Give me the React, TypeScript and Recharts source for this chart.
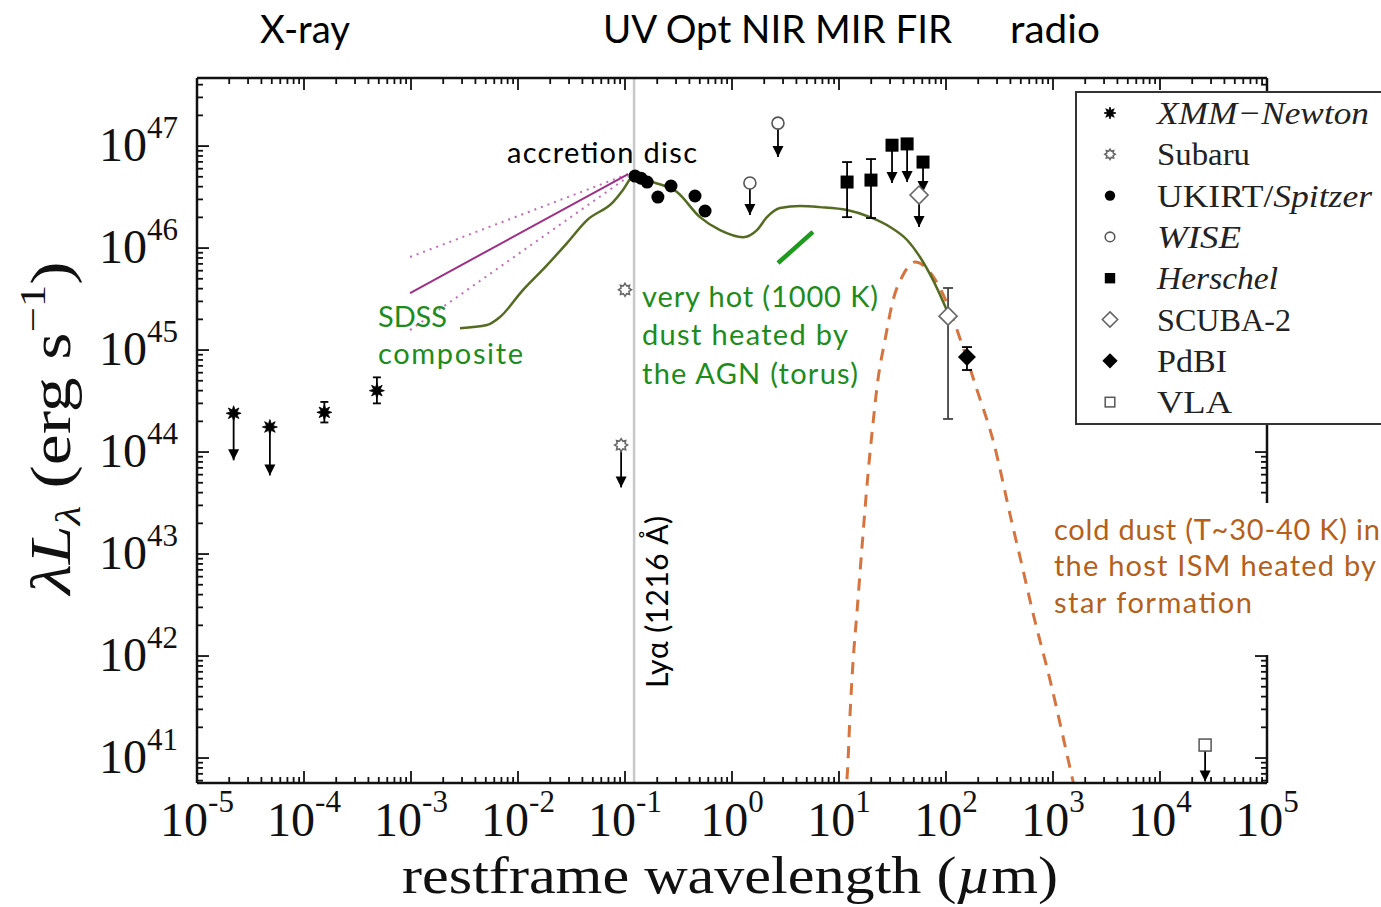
import React from 'react';
import { ComposedChart, XAxis, YAxis, Scatter, Line, ErrorBar, ReferenceLine, Legend } from 'recharts';

// ---------------- data (restframe wavelength in µm, λLλ in erg/s) ----------------
const X_MAJOR_EXPONENTS = [-5, -4, -3, -2, -1, 0, 1, 2, 3, 4, 5];
const Y_MAJOR_EXPONENTS = [41, 42, 43, 44, 45, 46, 47];
const X_DOMAIN = [1e-5, 1e5];
const Y_DOMAIN = [5.69e40, 4.65e47];
const LY_ALPHA_UM = 0.1216;

const xmmDetections = [
  { x: 1.55e-4, y: 2.45e44, lo: 1.95e44, hi: 3.1e44 },
  { x: 4.8e-4, y: 4.0e44, lo: 3.0e44, hi: 5.4e44 },
];
const xmmLimits = [
  { x: 2.2e-5, y: 2.4e44, tip: 8.3e43 },
  { x: 4.8e-5, y: 1.76e44, tip: 5.9e43 },
];
const subaruDetections = [{ x: 0.1, y: 3.9e45 }];
const subaruLimits = [{ x: 0.092, y: 1.17e44, tip: 4.5e43 }];
const ukirtSpitzer = [
  { x: 0.124, y: 5.08e46 },
  { x: 0.141, y: 4.85e46 },
  { x: 0.161, y: 4.44e46 },
  { x: 0.203, y: 3.16e46 },
  { x: 0.269, y: 4.06e46 },
  { x: 0.451, y: 3.24e46 },
  { x: 0.56, y: 2.31e46 },
];
const wiseLimits = [
  { x: 1.47, y: 4.34e46, tip: 2.11e46 },
  { x: 2.69, y: 1.68e47, tip: 7.8e46 },
];
const herschelDetections = [
  { x: 11.9, y: 4.44e46, lo: 2.01e46, hi: 6.97e46 },
  { x: 19.9, y: 4.64e46, lo: 1.97e46, hi: 7.46e46 },
];
const herschelLimits = [
  { x: 31.3, y: 1.02e47, tip: 4.34e46 },
  { x: 43.3, y: 1.05e47, tip: 4.44e46 },
  { x: 61.0, y: 6.97e46, tip: 3.54e46 },
];
const scubaDetections = [{ x: 104.5, y: 2.15e45, lo: 2.11e44, hi: 4.06e45 }];
const scubaLimits = [{ x: 56.0, y: 3.31e46, tip: 1.61e46 }];
const pdbiDetections = [{ x: 157, y: 8.53e44, lo: 6.37e44, hi: 1.07e45 }];
const vlaLimits = [{ x: 2.64e4, y: 1.34e41, tip: 5.9e40 }];

const sedModel = [
  { x: 2.87e-3, y: 1.64e45 }, { x: 5.13e-3, y: 1.76e45 }, { x: 6.79e-3, y: 2.11e45 },
  { x: 1.11e-2, y: 3.87e45 }, { x: 1.87e-2, y: 6.81e45 }, { x: 2.87e-2, y: 1.12e46 },
  { x: 4.42e-2, y: 1.88e46 }, { x: 7.73e-2, y: 2.82e46 }, { x: 9.57e-2, y: 3.71e46 },
  { x: 0.116, y: 4.97e46 }, { x: 0.124, y: 5.2e46 }, { x: 0.183, y: 4.44e46 },
  { x: 0.306, y: 3.54e46 }, { x: 0.502, y: 2.01e46 }, { x: 0.773, y: 1.5e46 },
  { x: 1.27, y: 1.28e46 }, { x: 1.71, y: 1.5e46 }, { x: 2.12, y: 2.01e46 },
  { x: 2.81, y: 2.47e46 }, { x: 4.33, y: 2.58e46 }, { x: 6.64, y: 2.52e46 },
  { x: 11.9, y: 2.36e46 }, { x: 19.5, y: 2.01e46 }, { x: 30.0, y: 1.61e46 },
  { x: 43.3, y: 1.2e46 }, { x: 57.1, y: 8.17e45 }, { x: 75.7, y: 4.85e45 },
  { x: 104.5, y: 2.31e45 },
];
const sdssSlope = [{ x: 9.8e-4, y: 3.62e45 }, { x: 0.107, y: 5.31e46 }];
const sdssSlopeUpper = [{ x: 9.8e-4, y: 8.17e45 }, { x: 0.107, y: 5.31e46 }];
const sdssSlopeLower = [{ x: 9.8e-4, y: 1.57e45 }, { x: 0.107, y: 5.0e46 }];
const hotDustMarker = [{ x: 2.69, y: 7.13e45 }, { x: 5.71, y: 1.44e46 }];
const coldDust = [
  { x: 10.96, y: 3.9e40 }, { x: 11.9, y: 6.5e40 }, { x: 12.7, y: 2.76e41 },
  { x: 13.5, y: 8.53e41 }, { x: 14.7, y: 2.64e42 }, { x: 16.4, y: 1.17e43 },
  { x: 18.7, y: 6.22e43 }, { x: 20.8, y: 1.92e44 }, { x: 23.1, y: 5.08e44 },
  { x: 26.9, y: 1.25e45 }, { x: 32.0, y: 3.09e45 }, { x: 38.8, y: 5.2e45 },
  { x: 51.3, y: 7.29e45 }, { x: 70.8, y: 5.82e45 }, { x: 102, y: 2.89e45 },
  { x: 144, y: 1.07e45 }, { x: 195, y: 4.06e44 }, { x: 275, y: 1.31e44 },
  { x: 414, y: 2.01e43 }, { x: 492, y: 9.35e42 }, { x: 650, y: 2.64e42 },
  { x: 938, y: 5.82e41 }, { x: 1507, y: 6.52e40 }, { x: 1607, y: 4.85e40 },
];

// ---------------- derived ----------------
const buildLogTicks = (exps: number[], lo: number, hi: number) => {
  const out: number[] = [];
  for (let e = exps[0] - 1; e <= exps[exps.length - 1]; e++) {
    for (let m = 1; m <= 9; m++) {
      const v = m * Math.pow(10, e);
      if (v >= lo * 0.999 && v <= hi * 1.001) out.push(v);
    }
  }
  return out;
};
const X_TICKS = buildLogTicks(X_MAJOR_EXPONENTS, X_DOMAIN[0], X_DOMAIN[1]);
const Y_TICKS = buildLogTicks(Y_MAJOR_EXPONENTS, Y_DOMAIN[0], Y_DOMAIN[1]);
const isMajor = (v: number) => Math.abs(Math.log10(v) - Math.round(Math.log10(v))) < 1e-6;

const withErr = (arr: any[]) => arr.map((d) => ({ ...d, err: [d.y - d.lo, d.hi - d.y] }));
const withLim = (arr: any[]) => arr.map((d) => ({ ...d, lim: [d.y - d.tip, 0] }));
const tips = (arr: any[]) => arr.map((d) => ({ x: d.x, y: d.tip }));

const allLimits = [...xmmLimits, ...subaruLimits, ...wiseLimits, ...herschelLimits, ...scubaLimits, ...vlaLimits];

// ---------------- symbols ----------------
const starPts = (cx: number, cy: number, n: number, ro: number, ri: number) => {
  const pts: string[] = [];
  for (let i = 0; i < 2 * n; i++) {
    const r = i % 2 === 0 ? ro : ri;
    const a = -Math.PI / 2 + (i * Math.PI) / n;
    pts.push(`${(cx + r * Math.cos(a)).toFixed(2)},${(cy + r * Math.sin(a)).toFixed(2)}`);
  }
  return pts.join(' ');
};
const Sym: Record<string, (cx: number, cy: number, s?: number) => JSX.Element> = {
  xmm: (cx, cy, s = 1) => <polygon points={starPts(cx, cy, 8, 7.5 * s, 3.6 * s)} fill="#000" stroke="#000" strokeWidth={0.8} />,
  subaru: (cx, cy, s = 1) => <polygon points={starPts(cx, cy, 8, 6.5 * s, 4.2 * s)} fill="#fff" stroke="#666" strokeWidth={1.5} />,
  ukirt: (cx, cy, s = 1) => <circle cx={cx} cy={cy} r={6.5 * s} fill="#000" />,
  wise: (cx, cy, s = 1) => <circle cx={cx} cy={cy} r={6 * s} fill="#fff" stroke="#555" strokeWidth={1.6} />,
  herschel: (cx, cy, s = 1) => <rect x={cx - 6.5 * s} y={cy - 6.5 * s} width={13 * s} height={13 * s} fill="#000" />,
  scuba: (cx, cy, s = 1) => (
    <polygon points={`${cx},${cy - 9 * s} ${cx + 9 * s},${cy} ${cx},${cy + 9 * s} ${cx - 9 * s},${cy}`} fill="#fff" stroke="#666" strokeWidth={1.6} />
  ),
  pdbi: (cx, cy, s = 1) => (
    <polygon points={`${cx},${cy - 9 * s} ${cx + 9 * s},${cy} ${cx},${cy + 9 * s} ${cx - 9 * s},${cy}`} fill="#000" />
  ),
  vla: (cx, cy, s = 1) => <rect x={cx - 6 * s} y={cy - 6 * s} width={12 * s} height={12 * s} fill="#fff" stroke="#555" strokeWidth={1.5} />,
  arrow: (cx, cy) => <polygon points={`${cx - 5.5},${cy - 11} ${cx + 5.5},${cy - 11} ${cx},${cy}`} fill="#000" />,
};
const shapeOf = (k: string) => (p: any) => Sym[k](p.cx, p.cy);

// ---------------- axis ticks ----------------
const SERIF = "'Liberation Serif', 'Times New Roman', serif";
const SANS = "Lato, 'Open Sans', sans-serif";

const makeTick = (side: 'bottom' | 'top' | 'left' | 'right') => (p: any) => {
  const { x, y, payload } = p;
  const v = payload.value;
  const major = isMajor(v);
  const len = major ? 12 : 6;
  const exp = Math.round(Math.log10(v));
  let line;
  if (side === 'bottom') line = <line x1={x} x2={x} y1={y} y2={y - len} stroke="#111" strokeWidth={1.8} />;
  else if (side === 'top') line = <line x1={x} x2={x} y1={y} y2={y + len} stroke="#111" strokeWidth={1.8} />;
  else if (side === 'left') line = <line x1={x} x2={x + len} y1={y} y2={y} stroke="#111" strokeWidth={1.8} />;
  else line = <line x1={x} x2={x - len} y1={y} y2={y} stroke="#111" strokeWidth={1.8} />;
  return (
    <g>
      {line}
      {major && side === 'bottom' && (
        <text x={x} y={y + 53} textAnchor="middle" fontFamily={SERIF} fontSize={48} fill="#111">
          10<tspan dy={-24} fontSize={31}>{exp < 0 ? `-${-exp}` : `${exp}`}</tspan>
        </text>
      )}
      {major && side === 'left' && (
        <text x={x - 19} y={y + 15} textAnchor="end" fontFamily={SERIF} fontSize={48} fill="#111">
          10<tspan dy={-23} fontSize={31}>{exp}</tspan>
        </text>
      )}
    </g>
  );
};

const axisLine = { stroke: '#111', strokeWidth: 2.5 };

// ---------------- legend ----------------
const legendRows: { key: string; label: React.ReactNode; w: number }[] = [
  { key: 'xmm', label: <tspan fontStyle="italic">XMM−Newton</tspan>, w: 212 },
  { key: 'subaru', label: 'Subaru', w: 93 },
  { key: 'ukirt', label: <>UKIRT/<tspan fontStyle="italic">Spitzer</tspan></>, w: 215 },
  { key: 'wise', label: <tspan fontStyle="italic">WISE</tspan>, w: 84 },
  { key: 'herschel', label: <tspan fontStyle="italic">Herschel</tspan>, w: 121 },
  { key: 'scuba', label: 'SCUBA-2', w: 134 },
  { key: 'pdbi', label: 'PdBI', w: 70 },
  { key: 'vla', label: 'VLA', w: 75 },
];
const LegendBox = () => (
  <div style={{ width: 340, height: 334, border: '2px solid #333', background: '#fff', boxSizing: 'border-box' }}>
    <svg width={336} height={330} style={{ display: 'block' }}>
      {legendRows.map((r, i) => {
        const cy = 20 + i * 41.3;
        const s = r.key === 'scuba' || r.key === 'pdbi' ? 0.85 : 0.8;
        return (
          <g key={r.key}>
            {Sym[r.key](33, cy, s)}
            <text x={80} y={cy + 11} fontFamily={SERIF} fontSize={32} fill="#222" textLength={r.w} lengthAdjust="spacingAndGlyphs">
              {r.label}
            </text>
          </g>
        );
      })}
    </svg>
  </div>
);

// ---------------- annotations ----------------
const Annotations = () => (
  <svg width={1381} height={907} style={{ position: 'absolute', left: 0, top: 0, pointerEvents: 'none' }}>
    {/* band labels */}
    <text x={260} y={43} fontFamily={SANS} fontSize={38} textLength={90} lengthAdjust="spacingAndGlyphs" fill="#000">X-ray</text>
    <text x={603} y={43} fontFamily={SANS} fontSize={38} textLength={349} lengthAdjust="spacingAndGlyphs" fill="#000">UV Opt NIR MIR FIR</text>
    <text x={1010} y={43} fontFamily={SANS} fontSize={38} textLength={90} lengthAdjust="spacingAndGlyphs" fill="#000">radio</text>

    <text x={507} y={163} fontFamily={SANS} fontSize={29} textLength={190} fill="#000">accretion disc</text>

    <g fontFamily={SANS} fontSize={29} fill="#1c8c1c">
      <text x={378} y={327} textLength={69}>SDSS</text>
      <text x={378} y={364} textLength={145}>composite</text>
      <text x={642} y={307} textLength={236}>very hot (1000 K)</text>
      <text x={642} y={345} textLength={206}>dust heated by</text>
      <text x={642} y={384} textLength={216}>the AGN (torus)</text>
    </g>

    <rect x={1049} y={503} width={332} height={152} fill="#fff" />
    <g fontFamily={SANS} fontSize={29} fill="#b5601a">
      <text x={1054} y={540} textLength={326}>cold dust (T~30-40 K) in</text>
      <text x={1054} y={576} textLength={322}>the host ISM heated by</text>
      <text x={1054} y={613} textLength={198}>star formation</text>
    </g>

    <text transform="translate(668,688) rotate(-90)" fontFamily={SANS} fontSize={30} textLength={172} fill="#000">Lyα (1216 Å)</text>

    {/* axis titles */}
    <text x={730} y={893} textAnchor="middle" fontFamily={SERIF} fontSize={52} textLength={656} lengthAdjust="spacingAndGlyphs" fill="#111">
      restframe wavelength (<tspan fontStyle="italic">µ</tspan>m)
    </text>
    <text transform="translate(70,428) rotate(-90)" textAnchor="middle" fontFamily={SERIF} fontSize={56} textLength={333} lengthAdjust="spacingAndGlyphs" fill="#111">
      <tspan fontStyle="italic">λL</tspan>
      <tspan fontStyle="italic" fontSize={36} dy={10}>λ</tspan>
      <tspan dy={-10}> (erg s</tspan>
      <tspan fontSize={36} dy={-25}>−1</tspan>
      <tspan dy={25}>)</tspan>
    </text>
  </svg>
);

export default function App() {
  return (
    <div style={{ position: 'fixed', left: 0, top: 0, width: 1381, height: 907, overflow: 'hidden', background: '#fff' }}>
      <ComposedChart width={1381} height={907} margin={{ top: 77, right: 113, bottom: 123, left: 0 }}>
        <XAxis dataKey="x" type="number" scale="log" domain={X_DOMAIN} allowDataOverflow ticks={X_TICKS} interval={0}
          height={1} tickSize={0} tickMargin={0} tickLine={false} axisLine={axisLine} tick={makeTick('bottom')} />
        <XAxis xAxisId="top" orientation="top" dataKey="x" type="number" scale="log" domain={X_DOMAIN} allowDataOverflow ticks={X_TICKS} interval={0}
          height={1} tickSize={0} tickMargin={0} tickLine={false} axisLine={axisLine} tick={makeTick('top')} />
        <YAxis dataKey="y" type="number" scale="log" domain={Y_DOMAIN} allowDataOverflow ticks={Y_TICKS} interval={0}
          width={197} tickSize={0} tickMargin={0} tickLine={false} axisLine={axisLine} tick={makeTick('left')} />
        <YAxis yAxisId="right" orientation="right" dataKey="y" type="number" scale="log" domain={Y_DOMAIN} allowDataOverflow ticks={Y_TICKS} interval={0}
          width={1} tickSize={0} tickMargin={0} tickLine={false} axisLine={axisLine} tick={makeTick('right')} />

        <ReferenceLine x={LY_ALPHA_UM} stroke="#c8c8c8" strokeWidth={2.5} />

        <Line data={sdssSlopeUpper} dataKey="y" type="linear" stroke="#c46bb6" strokeWidth={2} strokeDasharray="2 5" dot={false} isAnimationActive={false} />
        <Line data={sdssSlopeLower} dataKey="y" type="linear" stroke="#c46bb6" strokeWidth={2} strokeDasharray="2 5" dot={false} isAnimationActive={false} />
        <Line data={sdssSlope} dataKey="y" type="linear" stroke="#9e2f86" strokeWidth={2} dot={false} isAnimationActive={false} />
        <Line data={coldDust} dataKey="y" type="monotone" stroke="#d5743f" strokeWidth={3} strokeDasharray="12 9" dot={false} isAnimationActive={false} />
        <Line data={sedModel} dataKey="y" type="monotone" stroke="#556b22" strokeWidth={2.5} dot={false} isAnimationActive={false} />
        <Line data={hotDustMarker} dataKey="y" type="linear" stroke="#1e9a1e" strokeWidth={4.5} dot={false} isAnimationActive={false} />

        {/* upper-limit arrows */}
        <Scatter data={withLim(allLimits)} dataKey="y" shape={() => <g />} isAnimationActive={false}>
          <ErrorBar dataKey="lim" direction="y" width={0} stroke="#000" strokeWidth={1.8} />
        </Scatter>
        <Scatter data={tips(allLimits)} dataKey="y" shape={shapeOf('arrow')} isAnimationActive={false} />

        <Scatter data={withErr(xmmDetections)} dataKey="y" shape={shapeOf('xmm')} isAnimationActive={false}>
          <ErrorBar dataKey="err" direction="y" width={4} stroke="#000" strokeWidth={1.8} />
        </Scatter>
        <Scatter data={xmmLimits} dataKey="y" shape={shapeOf('xmm')} isAnimationActive={false} />
        <Scatter data={subaruDetections} dataKey="y" shape={shapeOf('subaru')} isAnimationActive={false} />
        <Scatter data={subaruLimits} dataKey="y" shape={shapeOf('subaru')} isAnimationActive={false} />
        <Scatter data={ukirtSpitzer} dataKey="y" shape={shapeOf('ukirt')} isAnimationActive={false} />
        <Scatter data={wiseLimits} dataKey="y" shape={shapeOf('wise')} isAnimationActive={false} />
        <Scatter data={withErr(herschelDetections)} dataKey="y" shape={shapeOf('herschel')} isAnimationActive={false}>
          <ErrorBar dataKey="err" direction="y" width={5} stroke="#000" strokeWidth={1.8} />
        </Scatter>
        <Scatter data={herschelLimits} dataKey="y" shape={shapeOf('herschel')} isAnimationActive={false} />
        <Scatter data={withErr(scubaDetections)} dataKey="y" shape={shapeOf('scuba')} isAnimationActive={false}>
          <ErrorBar dataKey="err" direction="y" width={5} stroke="#444" strokeWidth={1.8} />
        </Scatter>
        <Scatter data={scubaLimits} dataKey="y" shape={shapeOf('scuba')} isAnimationActive={false} />
        <Scatter data={withErr(pdbiDetections)} dataKey="y" shape={shapeOf('pdbi')} isAnimationActive={false}>
          <ErrorBar dataKey="err" direction="y" width={5} stroke="#000" strokeWidth={1.8} />
        </Scatter>
        <Scatter data={vlaLimits} dataKey="y" shape={shapeOf('vla')} isAnimationActive={false} />

        <Legend layout="vertical" align="center" verticalAlign="middle" content={() => <LegendBox />}
          wrapperStyle={{ position: 'absolute', left: 1075, top: 91, width: 340, height: 334, margin: 0, padding: 0 }} />
      </ComposedChart>
      <Annotations />
    </div>
  );
}
